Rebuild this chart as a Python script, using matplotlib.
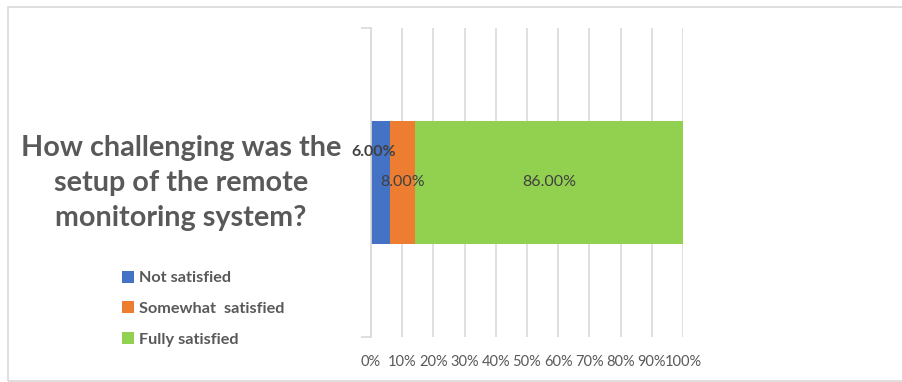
import matplotlib
matplotlib.use("Agg")
import matplotlib.pyplot as plt
from matplotlib.patches import Rectangle, Patch
from matplotlib.ticker import PercentFormatter

categories = ["How challenging was the setup"]
series_names = ["Not satisfied", "Somewhat  satisfied", "Fully satisfied"]
values = [6.0, 8.0, 86.0]
value_labels = ["6.00%", "8.00%", "86.00%"]
colors = ["#4472C4", "#ED7D31", "#92D050"]
xticks = [0, 10, 20, 30, 40, 50, 60, 70, 80, 90, 100]
title_text = "How challenging was the\nsetup of the remote\nmonitoring system?"

plt.rcParams['font.family'] = ['Lato', 'DejaVu Sans']
W, H = 903, 382
fig = plt.figure(figsize=(W / 100, H / 100), dpi=100)
fig.patch.set_facecolor("white")

# outer frame
fig.add_artist(Rectangle((8 / W, 1 - 381 / H), 1.2, (381 - 7) / H,
                         transform=fig.transFigure, fill=False,
                         edgecolor="#d9d9d9", linewidth=1.2))

ax = fig.add_axes([371 / W, 1 - 337 / H, (683 - 371) / W, (337 - 28) / H])
ax.set_xlim(0, 100)
ax.set_ylim(-0.5, 0.5)

left = 0
bars = []
for name, v, c in zip(series_names, values, colors):
    ax.barh(0, v, left=left, height=0.4, color=c, label=name, zorder=3)
    bars.append((left, v))
    left += v

# labels
offsets = [(-4.5, 22), (0, 0), (0, 0)]
for (l, v), lab, off, i in zip(bars, value_labels, offsets, range(3)):
    ax.annotate(lab, (l + v / 2, 0), xytext=off, textcoords="offset points",
                ha="center", va="center", fontsize=11.5,
                color="#404040", fontweight="bold" if i == 0 else "normal",
                zorder=5)

ax.set_xticks(xticks)
ax.xaxis.set_major_formatter(PercentFormatter(decimals=0))
ax.tick_params(axis="x", length=0, labelsize=10.5, labelcolor="#595959", pad=13)
ax.grid(axis="x", color="#d9d9d9", linewidth=1.2, zorder=0)
for s in ["top", "right", "bottom"]:
    ax.spines[s].set_visible(False)
ax.spines["left"].set_color("#d9d9d9")
ax.spines["left"].set_linewidth(1.2)
ax.spines["left"].set_zorder(4)
# small end ticks on left axis
ax.set_yticks([-0.5, 0.5])
ax.set_yticklabels(["", ""])
ax.tick_params(axis="y", length=7, color="#d9d9d9", width=1.2)

fig.text(181 / W, 1 - 183 / H, title_text, ha="center", va="center",
         fontsize=20.7, fontweight="bold", color="#595959", linespacing=1.45)

handles = [Patch(facecolor=c, edgecolor="none") for c in colors]
leg = fig.legend(handles, series_names, loc="upper left",
                 bbox_to_anchor=(107 / W, 1 - 256 / H), frameon=False,
                 prop={"family": ["Lato", "DejaVu Sans"], "weight": "bold", "size": 11.7},
                 handlelength=0.75, handleheight=0.75, handletextpad=0.35,
                 labelspacing=1.0, labelcolor="#595959")

fig.savefig("out.png", dpi=100, facecolor="white")
